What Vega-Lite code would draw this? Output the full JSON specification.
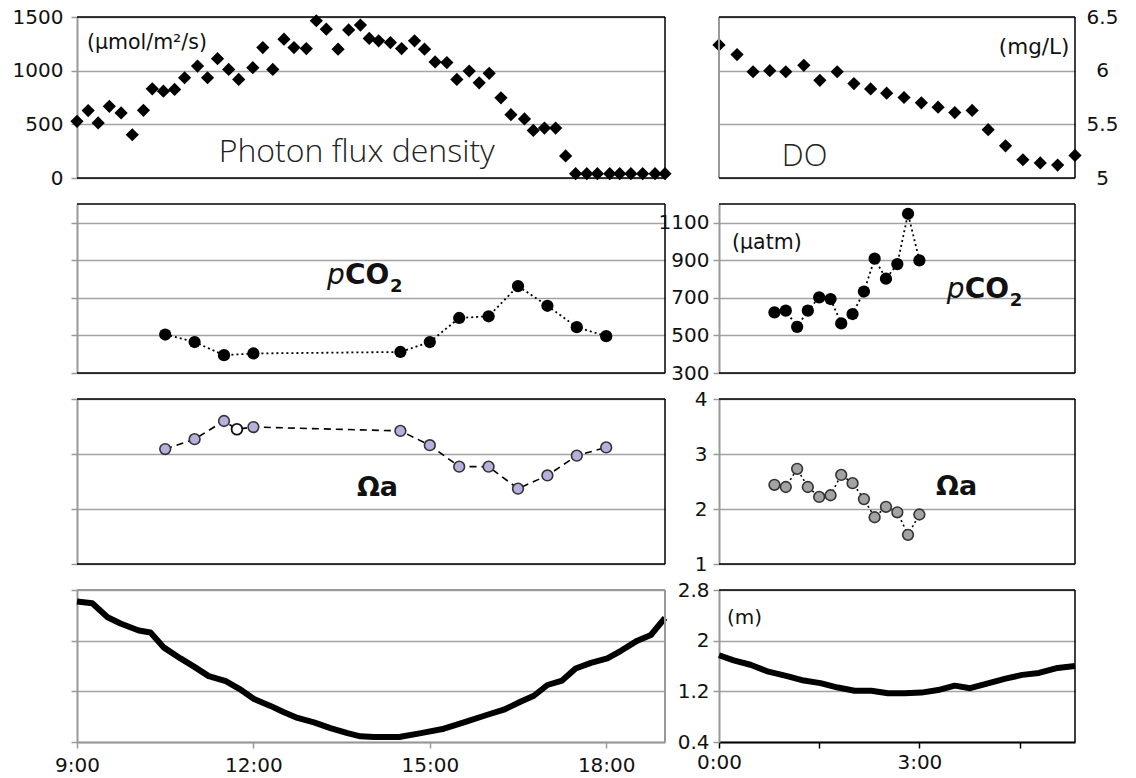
{
  "$schema": "https://vega.github.io/schema/vega-lite/v6.json",
  "background": "white",
  "padding": {"left": 12, "top": 7, "right": 5, "bottom": 5},
  "columns": 2,
  "spacing": {"row": 26, "column": 54},
  "bounds": "flush",
  "datasets": {
    "pfd": [
      {"h": 9.0, "v": 528}, {"h": 9.19, "v": 628}, {"h": 9.36, "v": 513}, {"h": 9.55, "v": 668}, {"h": 9.75, "v": 606},
      {"h": 9.94, "v": 403}, {"h": 10.13, "v": 631}, {"h": 10.28, "v": 831}, {"h": 10.47, "v": 809}, {"h": 10.66, "v": 825},
      {"h": 10.83, "v": 934}, {"h": 11.05, "v": 1043}, {"h": 11.22, "v": 934}, {"h": 11.39, "v": 1112}, {"h": 11.58, "v": 1012},
      {"h": 11.75, "v": 918}, {"h": 11.99, "v": 1028}, {"h": 12.16, "v": 1215}, {"h": 12.33, "v": 1012}, {"h": 12.52, "v": 1293},
      {"h": 12.69, "v": 1215}, {"h": 12.9, "v": 1206}, {"h": 13.07, "v": 1465}, {"h": 13.24, "v": 1387}, {"h": 13.44, "v": 1200},
      {"h": 13.62, "v": 1380}, {"h": 13.82, "v": 1425}, {"h": 13.97, "v": 1300}, {"h": 14.13, "v": 1278}, {"h": 14.33, "v": 1262},
      {"h": 14.52, "v": 1206}, {"h": 14.74, "v": 1278}, {"h": 14.91, "v": 1200}, {"h": 15.09, "v": 1081}, {"h": 15.29, "v": 1075},
      {"h": 15.46, "v": 918}, {"h": 15.67, "v": 996}, {"h": 15.84, "v": 887}, {"h": 16.01, "v": 975}, {"h": 16.21, "v": 747},
      {"h": 16.38, "v": 590}, {"h": 16.61, "v": 550}, {"h": 16.76, "v": 443}, {"h": 16.95, "v": 465}, {"h": 17.14, "v": 465},
      {"h": 17.31, "v": 206}, {"h": 17.48, "v": 40}, {"h": 17.67, "v": 40}, {"h": 17.85, "v": 40}, {"h": 18.06, "v": 40},
      {"h": 18.23, "v": 40}, {"h": 18.42, "v": 40}, {"h": 18.62, "v": 40}, {"h": 18.83, "v": 40}, {"h": 19.0, "v": 40}
    ],
    "do": [
      {"h": 0.0, "v": 6.24}, {"h": 0.27, "v": 6.15}, {"h": 0.51, "v": 5.99}, {"h": 0.76, "v": 6.0}, {"h": 1.0, "v": 5.99},
      {"h": 1.27, "v": 6.05}, {"h": 1.51, "v": 5.91}, {"h": 1.77, "v": 5.99}, {"h": 2.02, "v": 5.88}, {"h": 2.27, "v": 5.83},
      {"h": 2.51, "v": 5.79}, {"h": 2.77, "v": 5.75}, {"h": 3.03, "v": 5.7}, {"h": 3.28, "v": 5.66}, {"h": 3.53, "v": 5.61},
      {"h": 3.79, "v": 5.63}, {"h": 4.03, "v": 5.45}, {"h": 4.29, "v": 5.3}, {"h": 4.55, "v": 5.17}, {"h": 4.81, "v": 5.14},
      {"h": 5.07, "v": 5.12}, {"h": 5.33, "v": 5.21}
    ],
    "pco2L": [
      {"h": 10.5, "v": 505}, {"h": 11.0, "v": 465}, {"h": 11.5, "v": 395}, {"h": 12.0, "v": 404}, {"h": 14.5, "v": 412},
      {"h": 15.0, "v": 465}, {"h": 15.5, "v": 593}, {"h": 16.0, "v": 602}, {"h": 16.5, "v": 763}, {"h": 17.0, "v": 658},
      {"h": 17.5, "v": 544}, {"h": 18.0, "v": 496}
    ],
    "pco2R": [
      {"h": 0.83, "v": 623}, {"h": 1.0, "v": 632}, {"h": 1.17, "v": 546}, {"h": 1.33, "v": 632}, {"h": 1.5, "v": 703},
      {"h": 1.67, "v": 694}, {"h": 1.83, "v": 564}, {"h": 2.0, "v": 614}, {"h": 2.17, "v": 734}, {"h": 2.33, "v": 909},
      {"h": 2.5, "v": 802}, {"h": 2.67, "v": 880}, {"h": 2.83, "v": 1148}, {"h": 3.0, "v": 900}
    ],
    "omL": [
      {"h": 10.5, "v": 3.09, "status": "filled"}, {"h": 11.0, "v": 3.27, "status": "filled"}, {"h": 11.5, "v": 3.6, "status": "filled"},
      {"h": 11.72, "v": 3.45, "status": "open"}, {"h": 12.0, "v": 3.49, "status": "filled"}, {"h": 14.5, "v": 3.42, "status": "filled"},
      {"h": 15.0, "v": 3.16, "status": "filled"}, {"h": 15.5, "v": 2.77, "status": "filled"}, {"h": 16.0, "v": 2.77, "status": "filled"},
      {"h": 16.5, "v": 2.37, "status": "filled"}, {"h": 17.0, "v": 2.61, "status": "filled"}, {"h": 17.5, "v": 2.97, "status": "filled"},
      {"h": 18.0, "v": 3.12, "status": "filled"}
    ],
    "omR": [
      {"h": 0.83, "v": 2.44}, {"h": 1.0, "v": 2.4}, {"h": 1.17, "v": 2.73}, {"h": 1.33, "v": 2.4}, {"h": 1.5, "v": 2.22},
      {"h": 1.67, "v": 2.25}, {"h": 1.83, "v": 2.62}, {"h": 2.0, "v": 2.47}, {"h": 2.17, "v": 2.18}, {"h": 2.33, "v": 1.85},
      {"h": 2.5, "v": 2.04}, {"h": 2.67, "v": 1.94}, {"h": 2.83, "v": 1.53}, {"h": 3.0, "v": 1.9}
    ],
    "tideL": [
      {"h": 9.0, "v": 2.62}, {"h": 9.26, "v": 2.59}, {"h": 9.52, "v": 2.37}, {"h": 9.74, "v": 2.27}, {"h": 10.05, "v": 2.16},
      {"h": 10.25, "v": 2.13}, {"h": 10.48, "v": 1.89}, {"h": 10.76, "v": 1.72}, {"h": 10.99, "v": 1.59}, {"h": 11.24, "v": 1.44},
      {"h": 11.53, "v": 1.36}, {"h": 11.76, "v": 1.24}, {"h": 12.01, "v": 1.08}, {"h": 12.29, "v": 0.97}, {"h": 12.52, "v": 0.87},
      {"h": 12.75, "v": 0.78}, {"h": 13.03, "v": 0.71}, {"h": 13.31, "v": 0.62}, {"h": 13.6, "v": 0.54}, {"h": 13.82, "v": 0.49},
      {"h": 14.05, "v": 0.48}, {"h": 14.48, "v": 0.48}, {"h": 14.85, "v": 0.54}, {"h": 15.24, "v": 0.61}, {"h": 15.58, "v": 0.71},
      {"h": 15.98, "v": 0.83}, {"h": 16.26, "v": 0.91}, {"h": 16.55, "v": 1.04}, {"h": 16.77, "v": 1.13}, {"h": 17.0, "v": 1.3},
      {"h": 17.25, "v": 1.37}, {"h": 17.48, "v": 1.56}, {"h": 17.74, "v": 1.65}, {"h": 18.02, "v": 1.72}, {"h": 18.25, "v": 1.84},
      {"h": 18.53, "v": 2.0}, {"h": 18.76, "v": 2.09}, {"h": 19.0, "v": 2.36}
    ],
    "tideR": [
      {"h": 0.0, "v": 1.77}, {"h": 0.22, "v": 1.69}, {"h": 0.47, "v": 1.62}, {"h": 0.74, "v": 1.51}, {"h": 1.02, "v": 1.44},
      {"h": 1.27, "v": 1.37}, {"h": 1.52, "v": 1.33}, {"h": 1.78, "v": 1.26}, {"h": 2.03, "v": 1.21}, {"h": 2.28, "v": 1.21},
      {"h": 2.53, "v": 1.17}, {"h": 2.78, "v": 1.17}, {"h": 3.03, "v": 1.18}, {"h": 3.28, "v": 1.22}, {"h": 3.53, "v": 1.29},
      {"h": 3.76, "v": 1.25}, {"h": 4.04, "v": 1.33}, {"h": 4.29, "v": 1.4}, {"h": 4.54, "v": 1.46}, {"h": 4.79, "v": 1.49},
      {"h": 5.07, "v": 1.57}, {"h": 5.33, "v": 1.6}
    ]
  },
  "concat": [
    {
      "width": 588, "height": 161,
      "layer": [
        {"data": {"name": "pfd"},
         "mark": {"type": "point", "shape": "diamond", "filled": true, "color": "#000", "size": 175, "opacity": 1},
         "encoding": {
           "x": {"field": "h", "type": "quantitative", "scale": {"domain": [9, 19], "nice": false, "zero": false}, "axis": null},
           "y": {"field": "v", "type": "quantitative", "scale": {"domain": [0, 1500], "nice": false}, "axis": {"title": null, "values": [0, 500, 1000, 1500], "grid": true, "labelPadding": 8, "labelExpr": "datum.value + ''"}}}},
        {"data": {"values": [{}]}, "mark": {"type": "text", "text": "(μmol/m²/s)", "align": "left", "baseline": "middle", "font": "DejaVu Sans", "fontSize": 20.5, "color": "#111"},
         "encoding": {"x": {"datum": 9.17}, "y": {"datum": 1258}}},
        {"data": {"values": [{}]}, "mark": {"type": "text", "text": "Photon flux density", "align": "left", "baseline": "middle", "font": "Open Sans", "fontSize": 32, "fontWeight": 300, "color": "#222"},
         "encoding": {"x": {"datum": 11.41}, "y": {"datum": 242}}},
        {"data": {"values": [{}]}, "mark": {"type": "rule", "color": "#000", "strokeWidth": 1.5}, "encoding": {"y": {"datum": 1500}}},
        {"data": {"values": [{}]}, "mark": {"type": "rule", "color": "#000", "strokeWidth": 1.5}, "encoding": {"y": {"datum": 0}}},
        {"data": {"values": [{}]}, "mark": {"type": "rule", "color": "#000", "strokeWidth": 1.5}, "encoding": {"x": {"datum": 19}}}
      ]
    },
    {
      "width": 356, "height": 161,
      "layer": [
        {"data": {"name": "do"},
         "mark": {"type": "point", "shape": "diamond", "filled": true, "color": "#000", "size": 175, "opacity": 1},
         "encoding": {
           "x": {"field": "h", "type": "quantitative", "scale": {"domain": [0, 5.33], "nice": false, "zero": false}, "axis": null},
           "y": {"field": "v", "type": "quantitative", "scale": {"domain": [5, 6.5], "nice": false, "zero": false}, "axis": {"title": null, "orient": "right", "values": [5, 5.5, 6, 6.5], "grid": true, "ticks": false, "domain": false, "labelAlign": "center", "labelPadding": 27, "labelExpr": "datum.value + ''"}}}},
        {"data": {"values": [{}]}, "mark": {"type": "text", "text": "(mg/L)", "align": "left", "baseline": "middle", "font": "DejaVu Sans", "fontSize": 21.5, "color": "#111"},
         "encoding": {"x": {"datum": 4.19}, "y": {"datum": 6.21}}},
        {"data": {"values": [{}]}, "mark": {"type": "text", "text": "DO", "align": "left", "baseline": "middle", "font": "Open Sans", "fontSize": 31, "fontWeight": 300, "color": "#222"},
         "encoding": {"x": {"datum": 0.94}, "y": {"datum": 5.196}}},
        {"data": {"values": [{}]}, "mark": {"type": "rule", "color": "#999", "strokeWidth": 2}, "encoding": {"x": {"datum": 0}}},
        {"data": {"values": [{}]}, "mark": {"type": "rule", "color": "#000", "strokeWidth": 1.5}, "encoding": {"y": {"datum": 6.5}}},
        {"data": {"values": [{}]}, "mark": {"type": "rule", "color": "#000", "strokeWidth": 1.5}, "encoding": {"y": {"datum": 5}}},
        {"data": {"values": [{}]}, "mark": {"type": "rule", "color": "#000", "strokeWidth": 1.5}, "encoding": {"x": {"datum": 5.33}}}
      ]
    },
    {
      "width": 588, "height": 169,
      "layer": [
        {"data": {"name": "pco2L"},
         "mark": {"type": "line", "color": "#000", "strokeWidth": 1.8, "strokeDash": [2, 3]},
         "encoding": {
           "x": {"field": "h", "type": "quantitative", "scale": {"domain": [9, 19], "nice": false, "zero": false}, "axis": null},
           "y": {"field": "v", "type": "quantitative", "scale": {"domain": [300, 1200], "nice": false, "zero": false}, "axis": {"title": null, "values": [300, 500, 700, 900, 1100], "grid": true, "labels": false}}}},
        {"data": {"name": "pco2L"},
         "mark": {"type": "circle", "color": "#000", "size": 150, "opacity": 1},
         "encoding": {"x": {"field": "h", "type": "quantitative"}, "y": {"field": "v", "type": "quantitative"}}},
        {"data": {"values": [{}]}, "mark": {"type": "text", "text": "p", "align": "left", "baseline": "alphabetic", "font": "DejaVu Sans", "fontStyle": "italic", "fontSize": 28, "color": "#111"},
         "encoding": {"x": {"datum": 13.25}, "y": {"datum": 774}}},
        {"data": {"values": [{}]}, "mark": {"type": "text", "text": "CO", "align": "left", "baseline": "alphabetic", "dx": 18, "font": "DejaVu Sans", "fontWeight": "bold", "fontSize": 28, "color": "#111"},
         "encoding": {"x": {"datum": 13.25}, "y": {"datum": 774}}},
        {"data": {"values": [{}]}, "mark": {"type": "text", "text": "2", "align": "left", "baseline": "alphabetic", "dx": 63, "dy": 8, "font": "DejaVu Sans", "fontWeight": "bold", "fontSize": 18, "color": "#111"},
         "encoding": {"x": {"datum": 13.25}, "y": {"datum": 774}}},
        {"data": {"values": [{}]}, "mark": {"type": "rule", "color": "#000", "strokeWidth": 1.5}, "encoding": {"y": {"datum": 1200}}},
        {"data": {"values": [{}]}, "mark": {"type": "rule", "color": "#000", "strokeWidth": 1.5}, "encoding": {"y": {"datum": 300}}},
        {"data": {"values": [{}]}, "mark": {"type": "rule", "color": "#000", "strokeWidth": 1.5}, "encoding": {"x": {"datum": 19}}}
      ]
    },
    {
      "width": 356, "height": 169,
      "layer": [
        {"data": {"name": "pco2R"},
         "mark": {"type": "line", "color": "#000", "strokeWidth": 1.8, "strokeDash": [2, 3]},
         "encoding": {
           "x": {"field": "h", "type": "quantitative", "scale": {"domain": [0, 5.33], "nice": false, "zero": false}, "axis": null},
           "y": {"field": "v", "type": "quantitative", "scale": {"domain": [300, 1200], "nice": false, "zero": false}, "axis": {"title": null, "values": [300, 500, 700, 900, 1100], "grid": true, "labelPadding": 4, "labelExpr": "datum.value + ''"}}}},
        {"data": {"name": "pco2R"},
         "mark": {"type": "circle", "color": "#000", "size": 150, "opacity": 1},
         "encoding": {"x": {"field": "h", "type": "quantitative"}, "y": {"field": "v", "type": "quantitative"}}},
        {"data": {"values": [{}]}, "mark": {"type": "text", "text": "(µatm)", "align": "left", "baseline": "middle", "font": "DejaVu Sans", "fontSize": 20.5, "color": "#111"},
         "encoding": {"x": {"datum": 0.195}, "y": {"datum": 992}}},
        {"data": {"values": [{}]}, "mark": {"type": "text", "text": "p", "align": "left", "baseline": "alphabetic", "font": "DejaVu Sans", "fontStyle": "italic", "fontSize": 28, "color": "#111"},
         "encoding": {"x": {"datum": 3.41}, "y": {"datum": 699}}},
        {"data": {"values": [{}]}, "mark": {"type": "text", "text": "CO", "align": "left", "baseline": "alphabetic", "dx": 18, "font": "DejaVu Sans", "fontWeight": "bold", "fontSize": 28, "color": "#111"},
         "encoding": {"x": {"datum": 3.41}, "y": {"datum": 699}}},
        {"data": {"values": [{}]}, "mark": {"type": "text", "text": "2", "align": "left", "baseline": "alphabetic", "dx": 63, "dy": 8, "font": "DejaVu Sans", "fontWeight": "bold", "fontSize": 18, "color": "#111"},
         "encoding": {"x": {"datum": 3.41}, "y": {"datum": 699}}},
        {"data": {"values": [{}]}, "mark": {"type": "rule", "color": "#000", "strokeWidth": 1.5}, "encoding": {"y": {"datum": 1200}}},
        {"data": {"values": [{}]}, "mark": {"type": "rule", "color": "#000", "strokeWidth": 1.5}, "encoding": {"y": {"datum": 300}}},
        {"data": {"values": [{}]}, "mark": {"type": "rule", "color": "#000", "strokeWidth": 1.5}, "encoding": {"x": {"datum": 5.33}}}
      ]
    },
    {
      "width": 588, "height": 165,
      "layer": [
        {"data": {"name": "omL"},
         "mark": {"type": "line", "color": "#000", "strokeWidth": 1.6, "strokeDash": [7, 5]},
         "encoding": {
           "x": {"field": "h", "type": "quantitative", "scale": {"domain": [9, 19], "nice": false, "zero": false}, "axis": null},
           "y": {"field": "v", "type": "quantitative", "scale": {"domain": [1, 4], "nice": false, "zero": false}, "axis": {"title": null, "values": [1, 2, 3, 4], "grid": true, "labels": false}}}},
        {"data": {"name": "omL"}, "transform": [{"filter": "datum.status == 'filled'"}],
         "mark": {"type": "circle", "fill": "#b7afdc", "stroke": "#333", "strokeWidth": 1.6, "size": 115, "opacity": 1, "fillOpacity": 1},
         "encoding": {"x": {"field": "h", "type": "quantitative"}, "y": {"field": "v", "type": "quantitative"}}},
        {"data": {"name": "omL"}, "transform": [{"filter": "datum.status == 'open'"}],
         "mark": {"type": "circle", "fill": "#fff", "stroke": "#111", "strokeWidth": 1.8, "size": 115, "opacity": 1, "fillOpacity": 1},
         "encoding": {"x": {"field": "h", "type": "quantitative"}, "y": {"field": "v", "type": "quantitative"}}},
        {"data": {"values": [{}]}, "mark": {"type": "text", "text": "Ωa", "align": "left", "baseline": "middle", "font": "DejaVu Sans", "fontWeight": "bold", "fontSize": 27, "color": "#111"},
         "encoding": {"x": {"datum": 13.76}, "y": {"datum": 2.38}}},
        {"data": {"values": [{}]}, "mark": {"type": "rule", "color": "#000", "strokeWidth": 1.5}, "encoding": {"y": {"datum": 4}}},
        {"data": {"values": [{}]}, "mark": {"type": "rule", "color": "#000", "strokeWidth": 1.5}, "encoding": {"y": {"datum": 1}}},
        {"data": {"values": [{}]}, "mark": {"type": "rule", "color": "#000", "strokeWidth": 1.5}, "encoding": {"x": {"datum": 19}}}
      ]
    },
    {
      "width": 356, "height": 165,
      "layer": [
        {"data": {"name": "omR"},
         "mark": {"type": "line", "color": "#000", "strokeWidth": 1.6, "strokeDash": [2, 3]},
         "encoding": {
           "x": {"field": "h", "type": "quantitative", "scale": {"domain": [0, 5.33], "nice": false, "zero": false}, "axis": null},
           "y": {"field": "v", "type": "quantitative", "scale": {"domain": [1, 4], "nice": false, "zero": false}, "axis": {"title": null, "values": [1, 2, 3, 4], "grid": true, "labelPadding": 6, "labelExpr": "datum.value + ''"}}}},
        {"data": {"name": "omR"},
         "mark": {"type": "circle", "fill": "#a3a3a3", "stroke": "#333", "strokeWidth": 1.6, "size": 115, "opacity": 1, "fillOpacity": 1},
         "encoding": {"x": {"field": "h", "type": "quantitative"}, "y": {"field": "v", "type": "quantitative"}}},
        {"data": {"values": [{}]}, "mark": {"type": "text", "text": "Ωa", "align": "left", "baseline": "middle", "font": "DejaVu Sans", "fontWeight": "bold", "fontSize": 27, "color": "#111"},
         "encoding": {"x": {"datum": 3.25}, "y": {"datum": 2.4}}},
        {"data": {"values": [{}]}, "mark": {"type": "rule", "color": "#000", "strokeWidth": 1.5}, "encoding": {"y": {"datum": 4}}},
        {"data": {"values": [{}]}, "mark": {"type": "rule", "color": "#000", "strokeWidth": 1.5}, "encoding": {"y": {"datum": 1}}},
        {"data": {"values": [{}]}, "mark": {"type": "rule", "color": "#000", "strokeWidth": 1.5}, "encoding": {"x": {"datum": 5.33}}}
      ]
    },
    {
      "width": 588, "height": 152,
      "layer": [
        {"data": {"name": "tideL"},
         "mark": {"type": "line", "color": "#000", "strokeWidth": 6, "strokeJoin": "round"},
         "encoding": {
           "x": {"field": "h", "type": "quantitative", "scale": {"domain": [9, 19], "nice": false, "zero": false}, "axis": {"title": null, "grid": false, "values": [9, 12, 15, 18], "labelExpr": "datum.value + ':00'", "labelPadding": 7}},
           "y": {"field": "v", "type": "quantitative", "scale": {"domain": [0.4, 2.8], "nice": false, "zero": false}, "axis": {"title": null, "values": [0.4, 1.2, 2, 2.8], "grid": true, "labels": false}}}},
        {"data": {"values": [{}]}, "mark": {"type": "rule", "color": "#999", "strokeWidth": 2}, "encoding": {"y": {"datum": 2.8}}},
        {"data": {"values": [{}]}, "mark": {"type": "rule", "color": "#999", "strokeWidth": 2}, "encoding": {"x": {"datum": 19}}}
      ]
    },
    {
      "width": 356, "height": 152,
      "layer": [
        {"data": {"name": "tideR"},
         "mark": {"type": "line", "color": "#000", "strokeWidth": 6, "strokeJoin": "round"},
         "encoding": {
           "x": {"field": "h", "type": "quantitative", "scale": {"domain": [0, 5.33], "nice": false, "zero": false}, "axis": {"title": null, "grid": false, "values": [0, 1.5, 3, 4.5], "labelExpr": "datum.value == 0 ? '0:00' : datum.value == 3 ? '3:00' : ''", "labelPadding": 4, "domainColor": "#000", "tickColor": "#000"}},
           "y": {"field": "v", "type": "quantitative", "scale": {"domain": [0.4, 2.8], "nice": false, "zero": false}, "axis": {"title": null, "values": [0.4, 1.2, 2, 2.8], "grid": true, "labelPadding": 4, "labelExpr": "datum.value + ''"}}}},
        {"data": {"values": [{}]}, "mark": {"type": "text", "text": "(m)", "align": "left", "baseline": "middle", "font": "DejaVu Sans", "fontSize": 20, "color": "#111"},
         "encoding": {"x": {"datum": 0.12}, "y": {"datum": 2.36}}},
        {"data": {"values": [{}]}, "mark": {"type": "rule", "color": "#000", "strokeWidth": 1.5}, "encoding": {"y": {"datum": 2.8}}},
        {"data": {"values": [{}]}, "mark": {"type": "rule", "color": "#000", "strokeWidth": 1.5}, "encoding": {"x": {"datum": 5.33}}}
      ]
    }
  ],
  "config": {
    "view": {"stroke": null},
    "axis": {
      "labelFont": "DejaVu Sans", "labelFontSize": 20, "labelColor": "#111",
      "domainColor": "#999", "domainWidth": 2,
      "tickColor": "#999", "tickWidth": 1.5, "tickSize": 6,
      "gridColor": "#a3a3a3", "gridWidth": 1.5,
      "labelFlush": false, "labelOverlap": false
    }
  }
}
